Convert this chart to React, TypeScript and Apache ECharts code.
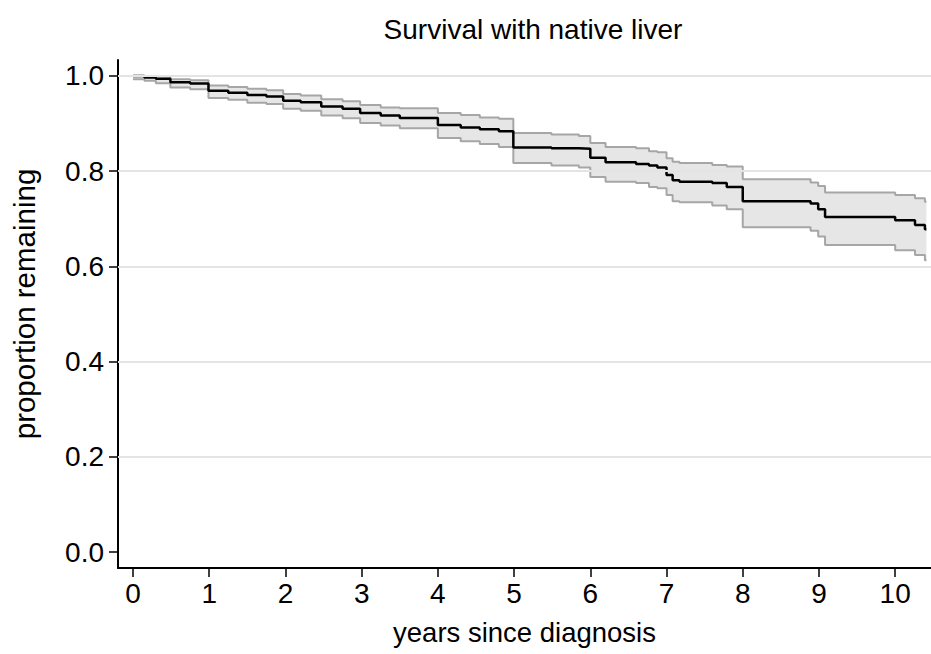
import React, { useEffect, useRef } from "react";
import * as echarts from "echarts";

const FONT = '"Liberation Sans", Arial, Helvetica, sans-serif';

// Kaplan-Meier estimate (step function) with 95% confidence band
const times = [0, 0.15, 0.30, 0.49, 0.75, 0.99, 1.25, 1.50, 1.75, 1.97, 2.20, 2.47, 2.75, 2.98, 3.25, 3.50, 4.00, 4.30, 4.55, 4.80, 4.99, 5.49, 5.85, 6.00, 6.20, 6.60, 6.77, 6.88, 7.00, 7.08, 7.17, 7.60, 7.79, 8.00, 8.89, 8.99, 9.08, 10.00, 10.26, 10.39, 10.41];
const survival = [1.000, 0.997, 0.994, 0.987, 0.984, 0.969, 0.965, 0.960, 0.957, 0.948, 0.945, 0.936, 0.931, 0.922, 0.917, 0.912, 0.897, 0.892, 0.888, 0.884, 0.850, 0.848, 0.847, 0.828, 0.819, 0.815, 0.812, 0.808, 0.792, 0.781, 0.778, 0.775, 0.767, 0.737, 0.732, 0.720, 0.704, 0.697, 0.687, 0.678, 0.678];
const lower = [0.993, 0.990, 0.985, 0.976, 0.972, 0.954, 0.950, 0.944, 0.941, 0.931, 0.927, 0.917, 0.911, 0.901, 0.896, 0.890, 0.870, 0.863, 0.857, 0.851, 0.817, 0.812, 0.808, 0.788, 0.778, 0.775, 0.767, 0.764, 0.750, 0.737, 0.735, 0.728, 0.720, 0.682, 0.675, 0.663, 0.645, 0.634, 0.624, 0.613, 0.613];
const upper = [1.000, 1.000, 0.999, 0.993, 0.991, 0.980, 0.977, 0.973, 0.970, 0.962, 0.959, 0.951, 0.947, 0.939, 0.934, 0.932, 0.922, 0.918, 0.913, 0.910, 0.880, 0.877, 0.874, 0.859, 0.851, 0.848, 0.842, 0.840, 0.827, 0.820, 0.817, 0.813, 0.810, 0.783, 0.776, 0.769, 0.755, 0.750, 0.743, 0.736, 0.736];

const xTicks = [0, 1, 2, 3, 4, 5, 6, 7, 8, 9, 10];
const yTicks = [0, 0.2, 0.4, 0.6, 0.8, 1.0];
const yGridLines = [0.2, 0.4, 0.6, 0.8, 1.0];

const TITLE = "Survival with native liver";
const X_NAME = "years since diagnosis";
const Y_NAME = "proportion remaining";

export default function App() {
  const ref = useRef<HTMLDivElement>(null);

  useEffect(() => {
    if (!ref.current) return;
    const chart = echarts.init(ref.current, null, { renderer: "svg" });

    const bandRows = times.map((t, i) => [t, lower[i], upper[i]]);
    const lowerData = times.map((t, i) => [t, lower[i]]);
    const upperData = times.map((t, i) => [t, upper[i]]);
    const survData = times.map((t, i) => [t, survival[i]]);

    const renderBand = (params: any, api: any) => {
      if (params.dataIndexInside !== 0) return null;
      const n = params.dataInsideLength;
      const top: number[][] = [];
      const bottom: number[][] = [];
      for (let i = 0; i < n; i++) {
        const t = api.value(0, i);
        const lo = api.value(1, i);
        const hi = api.value(2, i);
        const tNext = i < n - 1 ? api.value(0, i + 1) : t;
        top.push(api.coord([t, hi]));
        top.push(api.coord([tNext, hi]));
        bottom.push(api.coord([t, lo]));
        bottom.push(api.coord([tNext, lo]));
      }
      const points = top.concat(bottom.reverse());
      return {
        type: "polygon",
        shape: { points },
        style: { fill: "#e6e6e6", stroke: "none" },
      };
    };

    const option: any = {
      animation: false,
      backgroundColor: "#ffffff",
      title: {
        text: TITLE,
        left: 528,
        top: 10,
        textAlign: "center",
        textStyle: { fontFamily: FONT, fontSize: 28, fontWeight: "normal", color: "#000" },
      },
      grid: { left: 118, right: 0, top: 60, bottom: 86, containLabel: false },
      xAxis: {
        type: "value",
        min: -0.197,
        max: 10.47,
        axisLine: { onZero: false, lineStyle: { color: "#000", width: 2 } },
        axisTick: { customValues: xTicks, length: 9, lineStyle: { color: "#000", width: 1.5 } },
        axisLabel: { customValues: xTicks, margin: 11, fontSize: 28, color: "#000", fontFamily: FONT },
        splitLine: { show: false },
        name: X_NAME,
        nameLocation: "middle",
        nameGap: 50,
        nameTextStyle: { fontFamily: FONT, fontSize: 27.5, color: "#000" },
      },
      yAxis: {
        type: "value",
        min: -0.0336,
        max: 1.0336,
        axisLine: { onZero: false, lineStyle: { color: "#000", width: 2 } },
        axisTick: { customValues: yTicks, length: 9, lineStyle: { color: "#000", width: 1.5 } },
        axisLabel: {
          customValues: yTicks,
          margin: 14,
          fontSize: 28,
          color: "#000",
          fontFamily: FONT,
          formatter: (v: number) => v.toFixed(1),
        },
        splitLine: { show: false },
      },
      graphic: [
        {
          type: "text",
          x: 24,
          y: 304,
          rotation: Math.PI / 2,
          style: {
            text: Y_NAME,
            fontFamily: FONT,
            fontSize: 29.5,
            fill: "#000",
            align: "center",
            verticalAlign: "middle",
          },
        },
      ],
      series: [
        {
          name: "grid",
          type: "line",
          data: [],
          z: 1,
          silent: true,
          markLine: {
            silent: true,
            symbol: "none",
            label: { show: false },
            lineStyle: { color: "#e4e4e4", width: 2, type: "solid" },
            data: yGridLines.map((v) => ({ yAxis: v })),
          },
        },
        {
          name: "band",
          type: "custom",
          data: bandRows,
          z: 2,
          silent: true,
          encode: { x: 0, y: [1, 2] },
          renderItem: renderBand,
        },
        {
          name: "lower",
          type: "line",
          step: "end",
          data: lowerData,
          symbol: "none",
          z: 3,
          lineStyle: { color: "#a6a6a6", width: 2 },
        },
        {
          name: "upper",
          type: "line",
          step: "end",
          data: upperData,
          symbol: "none",
          z: 3,
          lineStyle: { color: "#a6a6a6", width: 2 },
        },
        {
          name: "survival",
          type: "line",
          step: "end",
          data: survData,
          symbol: "none",
          z: 4,
          lineStyle: { color: "#000", width: 2.5 },
        },
      ],
    };

    chart.setOption(option);
    return () => chart.dispose();
  }, []);

  return (
    <div
      ref={ref}
      style={{ position: "fixed", left: 0, top: 0, width: 931, height: 654, background: "#fff" }}
    />
  );
}
